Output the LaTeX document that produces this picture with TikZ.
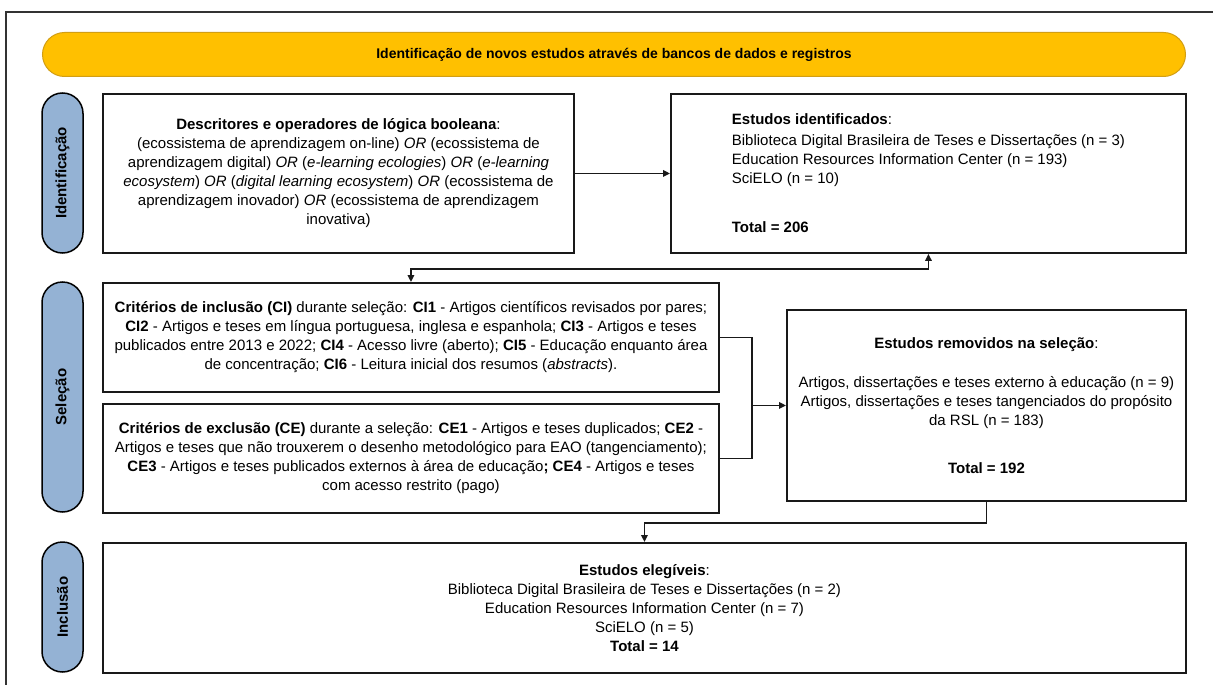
\documentclass[tikz,border=0pt]{standalone}
\usepackage{fontspec}
\setmainfont{Liberation Sans}
\usetikzlibrary{arrows.meta}
\definecolor{bannerfill}{RGB}{255,192,0}
\definecolor{bannerline}{RGB}{210,158,20}
\definecolor{pillfill}{RGB}{148,178,212}
\begin{document}
\begin{tikzpicture}[x=1pt,y=-1pt,
  boxstyle/.style={draw=black!90,line width=1.9pt,fill=white,inner sep=0pt,anchor=north west,
    font=\fontsize{15}{19}\selectfont,align=center},
  pillstyle/.style={draw=black,line width=1.5pt,fill=pillfill,inner sep=0pt,rotate=90,
    rounded corners=20.5pt,minimum height=41pt,font=\fontsize{15}{18}\selectfont\bfseries},
  conn/.style={line width=1.9pt,draw=black!90},
  arr/.style={conn,-{Triangle[length=7pt,width=6.5pt]}},
  arrboth/.style={conn,{Triangle[length=7pt,width=6.5pt]}-{Triangle[length=7pt,width=6.5pt]}}]
\useasboundingbox (0,0) rectangle (1213,685);
\fill[white] (0,0) rectangle (1213,685);
% outer frame
\draw[line width=2.5pt,black!80] (6,690) -- (6,12) -- (1220,12);
% banner
\node[draw=bannerline,line width=1pt,fill=bannerfill,rounded corners=22pt,anchor=north west,
  minimum width=1143pt,minimum height=44pt,inner sep=0pt,
  font=\fontsize{14}{17}\selectfont\bfseries] (banner) at (42,32)
  {Identificação de novos estudos através de bancos de dados e registros};
% pills
\node[pillstyle,minimum width=160pt] (p1) at (62.5,173) {Identificação};
\node[pillstyle,minimum width=230pt] (p2) at (62.5,397) {Seleção};
\node[pillstyle,minimum width=130pt] (p3) at (62.5,607) {Inclusão};
% boxes
\node[boxstyle,minimum width=471pt,minimum height=159pt] (b1) at (102,93)
  {\textbf{Descritores e operadores de lógica booleana}:\\
   (ecossistema de aprendizagem on-line) \textit{OR} (ecossistema de\\
   aprendizagem digital) \textit{OR} (\textit{e-learning ecologies}) \textit{OR} (\textit{e-learning}\\
   \textit{ecosystem}) \textit{OR} (\textit{digital learning ecosystem}) \textit{OR} (ecossistema de\\
   aprendizagem inovador) \textit{OR} (ecossistema de aprendizagem\\
   inovativa)};
\node[boxstyle,align=left,minimum width=515pt,minimum height=159pt] (b2) at (670,93)
  {\textbf{Estudos identificados}:\\[2pt]
   Biblioteca Digital Brasileira de Teses e Dissertações (n = 3)\hspace*{11pt}\\
   Education Resources Information Center (n = 193)\\
   SciELO (n = 10)\\[30pt]
   \textbf{Total = 206}};
\node[boxstyle,minimum width=616pt,minimum height=109pt] (b3) at (102,282)
  {\textbf{Critérios de inclusão (CI)} durante seleção: \textbf{CI1} - Artigos científicos revisados por pares;\\
   \textbf{CI2} - Artigos e teses em língua portuguesa, inglesa e espanhola; \textbf{CI3} - Artigos e teses\\
   publicados entre 2013 e 2022; \textbf{CI4} - Acesso livre (aberto); \textbf{CI5} - Educação enquanto área\\
   de concentração; \textbf{CI6} - Leitura inicial dos resumos (\textit{abstracts}).};
\node[boxstyle,minimum width=616pt,minimum height=109pt] (b4) at (102,403)
  {\textbf{Critérios de exclusão (CE)} durante a seleção: \textbf{CE1} - Artigos e teses duplicados; \textbf{CE2} -\\
   Artigos e teses que não trouxerem o desenho metodológico para EAO (tangenciamento);\\
   \textbf{CE3} - Artigos e teses publicados externos à área de educação\textbf{;} \textbf{CE4} - Artigos e teses\\
   com acesso restrito (pago)};
\node[boxstyle,minimum width=399pt,minimum height=191pt] (rem) at (786,309)
  {\textbf{Estudos removidos na seleção}:\\[20pt]
   Artigos, dissertações e teses externo à educação (n = 9)\\
   Artigos, dissertações e teses tangenciados do propósito\\
   da RSL (n = 183)\\[29pt]
   \textbf{Total = 192}};
\node[boxstyle,minimum width=1083pt,minimum height=130pt] (b5) at (102,542)
  {\textbf{Estudos elegíveis}:\\
   Biblioteca Digital Brasileira de Teses e Dissertações (n = 2)\\
   Education Resources Information Center (n = 7)\\
   SciELO (n = 5)\\
   \textbf{Total = 14}};
% connectors
\coordinate (jx) at (752,0);
\draw[arr] (b1.east) -- (b2.west);
\draw[arrboth] (b2.south) -- ++(0,15) -| (b3.north);
\draw[conn] (b3.east) -| (jx |- b4.east) -- (b4.east);
\draw[arr] (rem.west -| jx) -- (rem.west);
\draw[arr] (rem.south) -- ++(0,21) -| (b5.north);
\end{tikzpicture}
\end{document}
